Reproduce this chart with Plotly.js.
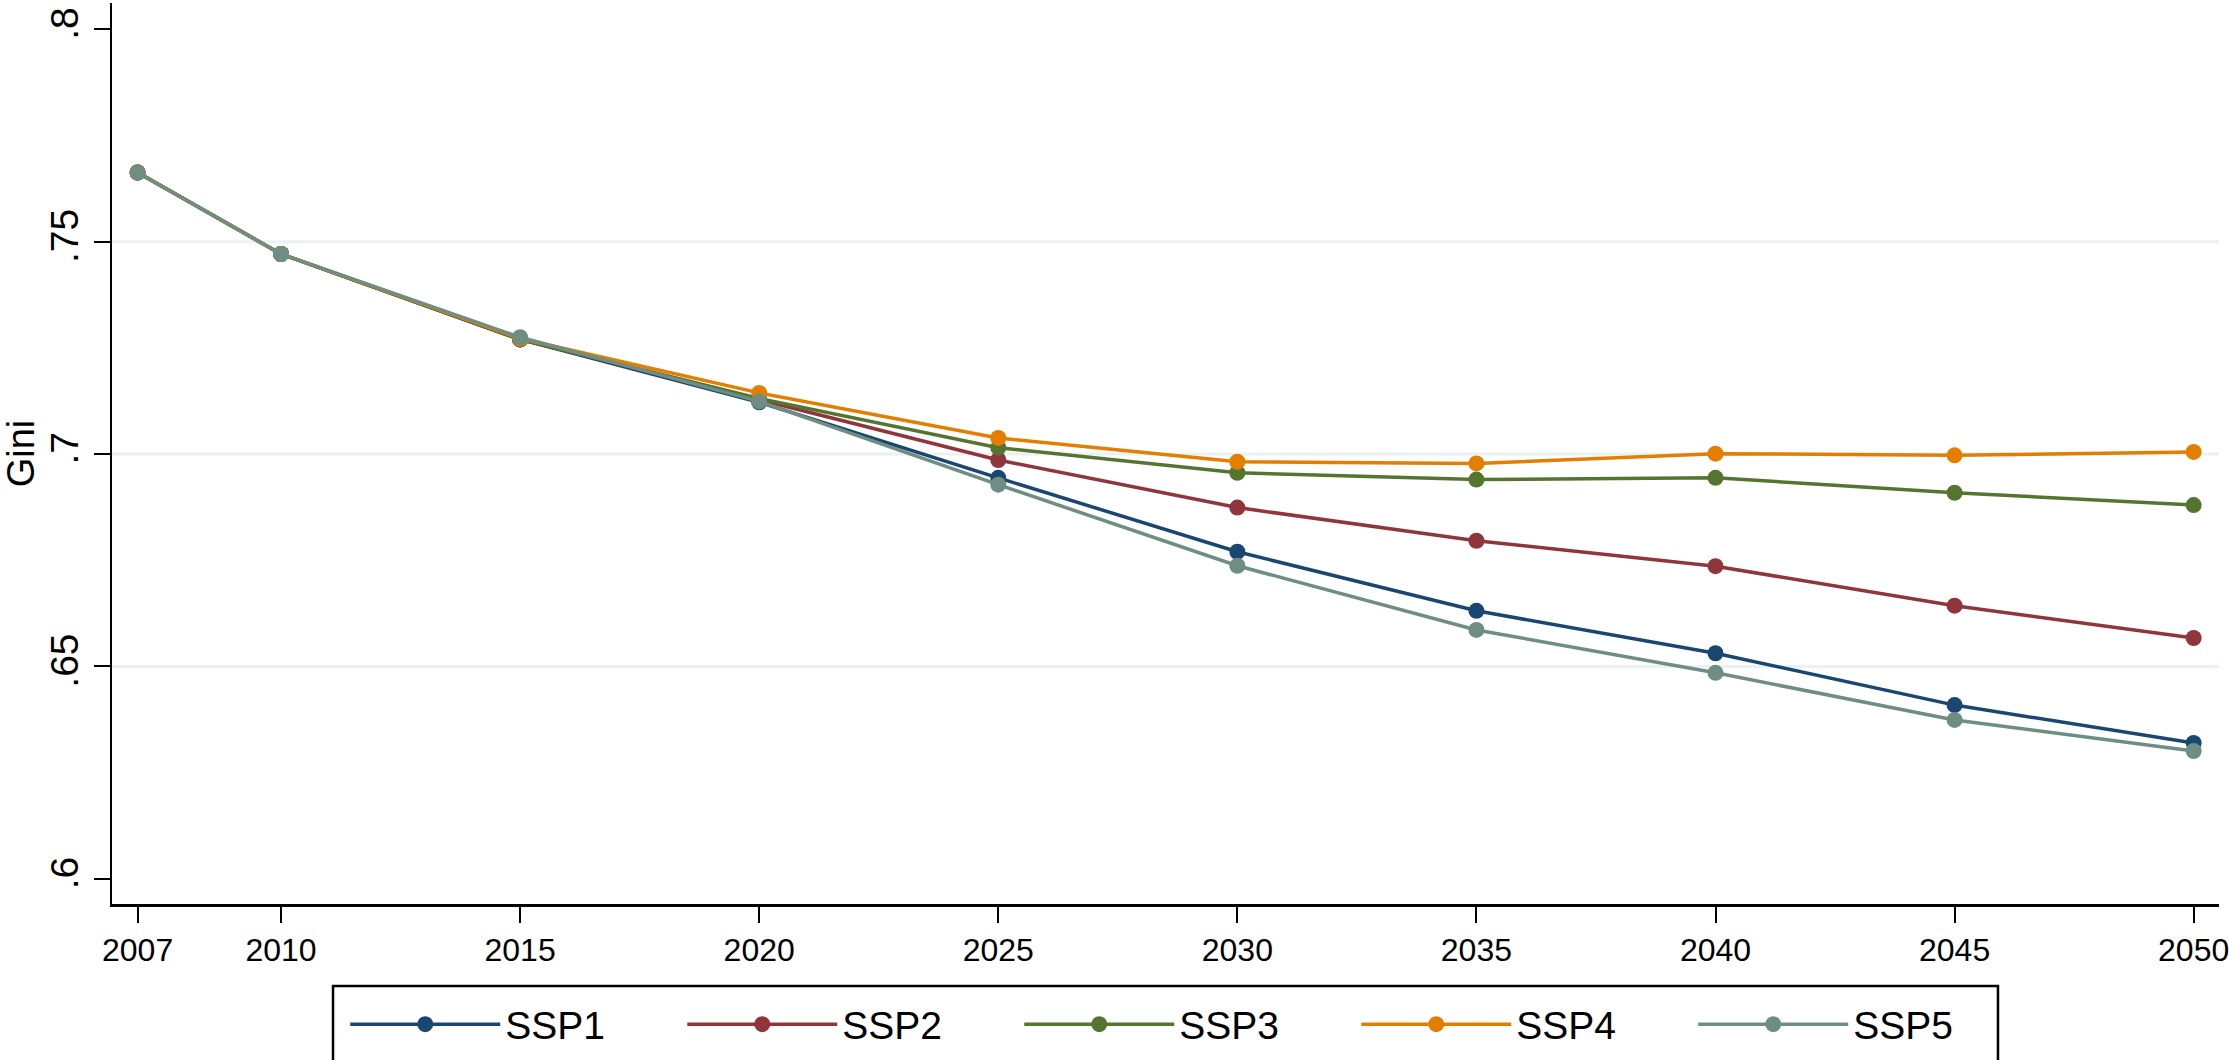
<!DOCTYPE html>
<html>
<head>
<meta charset="utf-8">
<script src="https://cdn.plot.ly/plotly-3.0.1.min.js"></script>
<style>
  html, body { margin: 0; padding: 0; background: #ffffff; }
  #chart { width: 2229px; height: 1060px; }
</style>
</head>
<body>
<div id="chart"></div>
<script>
// ---- data ----
var years = [2007, 2010, 2015, 2020, 2025, 2030, 2035, 2040, 2045, 2050];
var yearLabels = ["2007", "2010", "2015", "2020", "2025", "2030", "2035", "2040", "2045", "2050"];

var ssp1 = [0.7663, 0.7471, 0.7270, 0.7122, 0.6944, 0.6770, 0.6631, 0.6531, 0.6409, 0.6320];
var ssp2 = [0.7663, 0.7471, 0.7270, 0.7127, 0.6986, 0.6874, 0.6796, 0.6736, 0.6643, 0.6567];
var ssp3 = [0.7663, 0.7471, 0.7270, 0.7131, 0.7015, 0.6956, 0.6940, 0.6944, 0.6909, 0.6880];
var ssp4 = [0.7663, 0.7471, 0.7272, 0.7144, 0.7038, 0.6982, 0.6978, 0.7001, 0.6997, 0.7005];
var ssp5 = [0.7663, 0.7471, 0.7275, 0.7124, 0.6928, 0.6737, 0.6586, 0.6485, 0.6374, 0.6301];

var seriesNames = ["SSP1", "SSP2", "SSP3", "SSP4", "SSP5"];
var yTickVals = [0.6, 0.65, 0.7, 0.75, 0.8];
var yTickText = [".6", ".65", ".7", ".75", ".8"];
var gridVals = [0.65, 0.7, 0.75];
var yTitle = "Gini";

// ---- styles ----
var colors = ["#1a476f", "#90353b", "#55752f", "#e37e00", "#6e8e84"];
var FONT = "Liberation Sans, Arial, Helvetica, sans-serif";

var seriesData = [ssp1, ssp2, ssp3, ssp4, ssp5];
var traces = seriesData.map(function (vals, i) {
  return {
    x: years,
    y: vals,
    name: seriesNames[i],
    type: "scatter",
    mode: "lines+markers",
    line: { color: colors[i], width: 3.5 },
    marker: { color: colors[i], size: 16, line: { width: 0 } }
  };
});

// horizontal grid lines at the inner y ticks
var shapes = gridVals.map(function (v) {
  return {
    type: "line", xref: "paper", yref: "y",
    x0: 0, x1: 1, y0: v, y1: v,
    line: { color: "#eaf2f3", width: 3 },
    layer: "below"
  };
});

// legend frame (open at the bottom, running off the page like the original)
shapes.push({
  type: "rect", xref: "paper", yref: "paper",
  x0: 0.1049, x1: 0.8951, y0: -0.0910, y1: -0.2000,
  line: { color: "#000000", width: 2.5 },
  fillcolor: "rgba(0,0,0,0)",
  layer: "above"
});

var layout = {
  width: 2229,
  height: 1060,
  paper_bgcolor: "#ffffff",
  plot_bgcolor: "#ffffff",
  margin: { l: 112, r: 10, t: 3, b: 156, autoexpand: false },
  font: { family: FONT, color: "#000000" },
  showlegend: true,
  xaxis: {
    range: [2006.465, 2050.53],
    tickmode: "array",
    tickvals: years,
    ticktext: yearLabels,
    ticks: "outside",
    ticklen: 16,
    tickwidth: 2,
    tickcolor: "#000000",
    tickfont: { family: FONT, size: 32, color: "#000000" },
    ticklabeloverflow: "allow",
    showgrid: false,
    zeroline: false,
    showline: true,
    linecolor: "#000000",
    linewidth: 2.5,
    fixedrange: true
  },
  yaxis: {
    range: [0.59407, 0.8062],
    tickmode: "array",
    tickvals: yTickVals,
    ticktext: yTickText,
    tickangle: -90,
    ticks: "outside",
    ticklen: 16,
    tickwidth: 2,
    tickcolor: "#000000",
    tickfont: { family: FONT, size: 39, color: "#000000" },
    showgrid: false,
    zeroline: false,
    showline: true,
    linecolor: "#000000",
    linewidth: 2.5,
    title: { text: yTitle, font: { family: FONT, size: 38, color: "#000000" }, standoff: 12 },
    fixedrange: true
  },
  shapes: shapes,
  legend: {
    orientation: "h",
    x: 0.1107,
    xanchor: "left",
    y: -0.0980,
    yanchor: "top",
    bgcolor: "rgba(0,0,0,0)",
    borderwidth: 0,
    itemwidth: 150,
    entrywidth: 172,
    font: { family: FONT, size: 39, color: "#000000" },
    traceorder: "normal"
  }
};

Plotly.newPlot("chart", traces, layout, { displayModeBar: false, staticPlot: true });
</script>
</body>
</html>
